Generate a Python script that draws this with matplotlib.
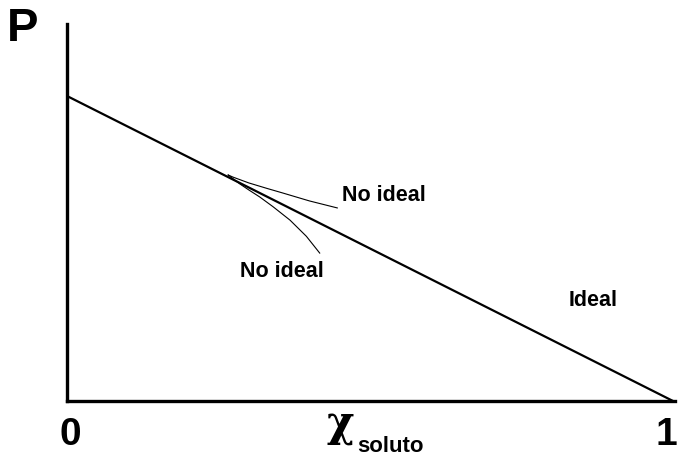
import numpy as np
import matplotlib.pyplot as plt

plt.rcParams['font.family'] = ['Liberation Sans', 'DejaVu Sans']

# ideal line (Raoult): P goes from P0 at x=0 to 0 at x=1
ideal_x = [0.0, 1.0]
ideal_p = [1.0, 0.0]

# positive deviation branch
upper_x = [0.266, 0.274, 0.300, 0.330, 0.356, 0.400, 0.446]
upper_p = [0.741, 0.734, 0.715, 0.697, 0.682, 0.656, 0.633]

# negative deviation branch
lower_x = [0.266, 0.285, 0.300, 0.318, 0.340, 0.368, 0.395, 0.417]
lower_p = [0.741, 0.712, 0.692, 0.669, 0.637, 0.593, 0.540, 0.485]

fig = plt.figure(figsize=(6.79, 4.59), dpi=100)
ax = fig.add_axes([67 / 679, 1 - 401 / 459, 608 / 679, 377 / 459])

ax.plot(ideal_x, ideal_p, color="black", linewidth=1.6, solid_capstyle="butt")
ax.plot(upper_x, upper_p, color="black", linewidth=0.8)
ax.plot(lower_x, lower_p, color="black", linewidth=0.8)

ax.set_xlim(0, 608 / 606)
ax.set_ylim(0, 377 / 305)
for side in ["top", "right"]:
    ax.spines[side].set_visible(False)
for side in ["left", "bottom"]:
    ax.spines[side].set_linewidth(2.4)
ax.set_xticks([])
ax.set_yticks([])

ax.text(0.454, 0.675, "No ideal", fontsize=15.5, fontweight="bold", va="center", ha="left")
ax.text(0.285, 0.423, "No ideal", fontsize=15.5, fontweight="bold", va="center", ha="left")
ax.text(0.828, 0.331, "Ideal", fontsize=15.5, fontweight="bold", va="center", ha="left")

fig.text(23 / 679, 1 - 29 / 459, "P", fontsize=34, fontweight="bold", ha="center", va="center")
fig.text(70 / 679, 1 - 435 / 459, "0", fontsize=28, fontweight="bold", ha="center", va="center",
         family=["Liberation Sans Narrow", "Liberation Sans"])
fig.text(677 / 679, 1 - 435 / 459, "1", fontsize=28, fontweight="bold", ha="right", va="center",
         family=["Liberation Sans Narrow", "Liberation Sans"])
fig.text(340 / 679, 1 - 424 / 459, "χ", fontsize=30, fontweight="bold", ha="center", va="center",
         family=["DejaVu Serif"])
fig.text(357 / 679, 1 - 446 / 459, "soluto", fontsize=16, fontweight="bold", ha="left", va="center")

plt.savefig("out.png", dpi=100)
plt.close()
